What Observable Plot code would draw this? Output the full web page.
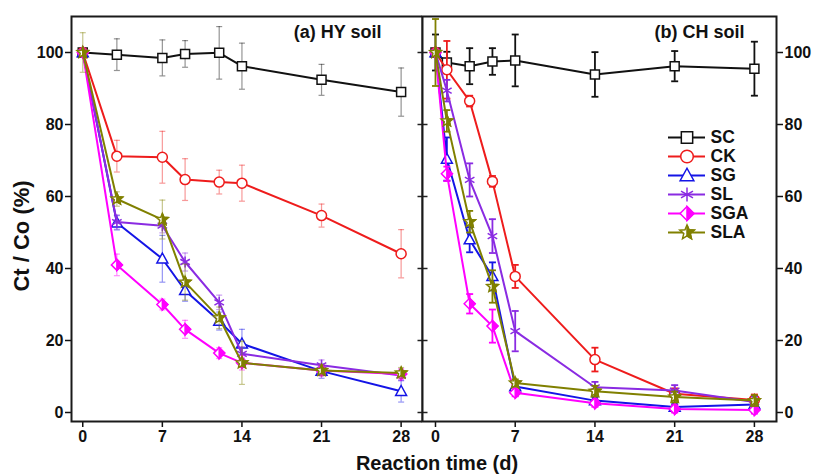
<!DOCTYPE html>
<html><head><meta charset="utf-8">
<script src="https://cdn.jsdelivr.net/npm/d3@7"></script>
<script src="https://cdn.jsdelivr.net/npm/@observablehq/plot@0.6"></script>
<style>
html,body{margin:0;padding:0;background:#fff;}
#chart{position:relative;width:816px;height:474px;overflow:hidden;font-family:Arial,"Liberation Sans",Helvetica,sans-serif;font-weight:bold;color:#111;}
#chart svg{position:absolute;top:0;overflow:visible;}
.lbl{position:absolute;white-space:nowrap;line-height:1;}
</style></head><body><div id="chart"></div>
<script>
// ---- data ----
const seriesNames = ["SC","CK","SG","SL","SGA","SLA"];
const seriesColors = ["#111111","#ee1c1c","#1414e6","#8a2be2","#ff00ff","#808000"];
const xTicks = [0,7,14,21,28];
const yTicks = [0,20,40,60,80,100];
const panelTitles = ["(a) HY soil","(b) CH soil"];

// (a) HY soil
const daysHY = [0,3,7,9,12,14,21,28];
const hySC  = [100,99.4,98.5,99.6,99.9,96.2,92.4,89.0];
const hyCK  = [100,71.2,70.9,64.7,64.0,63.7,54.7,44.1];
const hySG  = [100,52.7,42.7,33.9,25.4,19.1,11.5,5.9];
const hySL  = [100,52.9,51.9,41.8,30.6,16.3,13.1,10.3];
const hySGA = [100,41.0,30.0,23.1,16.5,13.8,11.7,10.7];
const hySLA = [100,59.3,53.6,36.2,26.3,13.8,11.7,11.0];
const hySCerr  = [0,4.4,5.0,3.7,7.3,6.4,4.3,6.7];
const hyCKerr  = [0,4.4,7.2,5.8,3.3,5.0,3.2,6.7];
const hySGerr  = [0,2.0,6.5,3.0,2.5,4.0,2.0,3.0];
const hySLerr  = [0,2.0,2.0,2.5,2.0,2.0,1.5,1.5];
const hySGAerr = [0,3.0,1.5,2.5,1.5,2.0,1.5,1.5];
const hySLAerr = [5.5,2.0,5.4,5.0,3.0,6.0,1.5,1.5];

// (b) CH soil
const daysCH = [0,1,3,5,7,14,21,28];
const chSC  = [100,97.2,96.2,97.5,97.8,93.9,96.2,95.5];
const chCK  = [100,95.2,86.5,64.2,37.8,14.7,5.2,3.5];
const chSG  = [100,70.4,48.0,37.8,7.2,3.3,1.5,2.2];
const chSL  = [100,89.4,64.6,49.0,22.6,7.0,6.1,2.9];
const chSGA = [100,66.3,30.2,24.0,5.5,2.6,1.0,0.7];
const chSLA = [100,81.0,53.0,35.0,8.2,5.9,4.3,3.3];
const chSCerr  = [5.0,3.0,5.0,3.7,7.2,6.2,4.2,7.5];
const chCKerr  = [0,8.0,1.5,1.5,3.2,3.3,1.5,1.5];
const chSGerr  = [0,6.0,3.5,3.9,1.0,1.0,0.8,0.8];
const chSLerr  = [0,3.0,4.6,4.7,5.6,1.5,1.5,1.5];
const chSGAerr = [0,2.0,2.7,4.6,1.0,1.0,1.0,1.0];
const chSLAerr = [9.3,3.0,3.0,4.5,1.0,1.5,1.5,1.5];

const hyValues = [hySC,hyCK,hySG,hySL,hySGA,hySLA];
const hyErrors = [hySCerr,hyCKerr,hySGerr,hySLerr,hySGAerr,hySLAerr];
const chValues = [chSC,chCK,chSG,chSL,chSGA,chSLA];
const chErrors = [chSCerr,chCKerr,chSGerr,chSLerr,chSGAerr,chSLAerr];

// ---- symbols ----
const rad = s => Math.sqrt(s/Math.PI);
const symCap = {draw(c,s){const r=rad(s); c.moveTo(-r,0); c.lineTo(r,0);}};
const symSquare = {draw(c,s){const r=rad(s)*0.9; c.rect(-r,-r,2*r,2*r);}};
const symCircle = {draw(c,s){const r=rad(s); c.moveTo(r,0); c.arc(0,0,r,0,2*Math.PI);}};
const symTriangle = {draw(c,s){const r=rad(s)*1.15; c.moveTo(0,-r); c.lineTo(r*0.95,r*0.72); c.lineTo(-r*0.95,r*0.72); c.closePath();}};
const symAsterisk = {draw(c,s){const r=rad(s)*1.1; const a=r*Math.cos(Math.PI/6), b=r*Math.sin(Math.PI/6);
  c.moveTo(0,-r); c.lineTo(0,r); c.moveTo(-a,-b); c.lineTo(a,b); c.moveTo(-a,b); c.lineTo(a,-b);}};
const symDiamond = {draw(c,s){const r=rad(s)*1.1; c.moveTo(0,-r); c.lineTo(r,0); c.lineTo(0,r); c.lineTo(-r,0); c.closePath();}};
const symDiamondR = {draw(c,s){const r=rad(s)*1.1; c.moveTo(0,-r); c.lineTo(r,0); c.lineTo(0,r); c.closePath();}};
function starPts(R, n){const pts=[]; for(let k=0;k<n;k++){const a=(-90+36*k)*Math.PI/180, rr=k%2?R*0.45:R; pts.push([rr*Math.cos(a), rr*Math.sin(a)]);} return pts;}
const symStar = {draw(c,s){const p=starPts(rad(s)*1.2,10); c.moveTo(...p[0]); p.slice(1).forEach(q=>c.lineTo(...q)); c.closePath();}};
const symStarR = {draw(c,s){const p=starPts(rad(s)*1.2,6); c.moveTo(...p[0]); p.slice(1).forEach(q=>c.lineTo(...q)); c.closePath();}};

const markerStyle = {
  SC:  [{symbol:symSquare, fill:"white"}],
  CK:  [{symbol:symCircle, fill:"white"}],
  SG:  [{symbol:symTriangle, fill:"white"}],
  SL:  [{symbol:symAsterisk, fill:"none"}],
  SGA: [{symbol:symDiamond, fill:"white"},{symbol:symDiamondR, fill:"color"}],
  SLA: [{symbol:symStar, fill:"white"},{symbol:symStarR, fill:"color"}]
};

function markerMarks(data, name, color, r, xf, yf){
  return markerStyle[name].map(m => Plot.dot(data, {x:xf, y:yf, symbol:m.symbol, r,
    fill: m.fill==="color"?color:m.fill, stroke:color, strokeWidth:1.5}));
}

function buildRows(days, vals, errs){
  const rows=[];
  seriesNames.forEach((name,si)=>vals[si].forEach((v,i)=>rows.push({name, day:days[i], v, e:errs[si][i]})));
  return rows;
}

const fontFamily = 'Arial, "Liberation Sans", Helvetica, sans-serif';
const baseStyle = {fontFamily, fontSize:"16px", fontWeight:"bold", color:"#111", background:"white", overflow:"visible"};

function panel(cfg){
  const rows = buildRows(cfg.days, cfg.vals, cfg.errs);
  const marks = [];
  seriesNames.forEach((name,si)=>{
    const color = seriesColors[si];
    const rs = rows.filter(d=>d.name===name);
    const eb = rs.filter(d=>d.e>0);
    const sw = cfg.light?1.2:1.8, op = cfg.light?0.45:1, cr = cfg.light?3:3.5;
    marks.push(
      Plot.ruleX(eb, {x:"day", y1:d=>d.v-d.e, y2:d=>d.v+d.e, stroke:color, strokeWidth:sw, strokeOpacity:op}),
      Plot.dot(eb, {x:"day", y:d=>d.v+d.e, symbol:symCap, r:cr, stroke:color, fill:"none", strokeWidth:sw, strokeOpacity:op}),
      Plot.dot(eb, {x:"day", y:d=>d.v-d.e, symbol:symCap, r:cr, stroke:color, fill:"none", strokeWidth:sw, strokeOpacity:op}),
      Plot.line(rs, {x:"day", y:"v", stroke:color, strokeWidth:2}),
      ...markerMarks(rs, name, color, 5, "day", "v")
    );
  });
  const axes = [
    Plot.axisX({ticks:xTicks, tickSize:6, tickPadding:3, label:null, strokeWidth:1.5, fontSize:16}),
    Plot.axisY({ticks:yTicks, anchor:cfg.side, tickSize:6, tickPadding:2, label:null, strokeWidth:1.5, fontSize:16})
  ];
  if (cfg.divider) axes.push(Plot.dot(yTicks, {y:d=>d, frameAnchor:"left", symbol:symCap, r:5, stroke:"#222", strokeWidth:1.5}));
  return Plot.plot({
    width: cfg.width, height: 474,
    marginLeft: cfg.marginLeft, marginRight: cfg.marginRight, marginTop: 16, marginBottom: 53,
    x: {domain: cfg.xDomain},
    y: {domain: [-2.5, 110]},
    style: baseStyle,
    marks: [
      ...marks,
      ...axes,
      Plot.frame({stroke:"#1a1a1a", strokeWidth:2}),
      Plot.text([cfg.title], {text:d=>d, frameAnchor:"top-right", dx:cfg.titleDx, dy:16, lineAnchor:"middle", textAnchor:"end", fontSize:18, fontWeight:"bold", fill:"#111"})
    ]
  });
}

const chart = document.getElementById("chart");
const left = panel({days:daysHY, vals:hyValues, errs:hyErrors, width:422, marginLeft:71, marginRight:0,
  xDomain:[-0.99,29.88], side:"left", title:panelTitles[0], titleDx:-41, light:true});
left.style.left = "0px";
chart.appendChild(left);
const right = panel({days:daysCH, vals:chValues, errs:chErrors, width:394, marginLeft:0, marginRight:40,
  xDomain:[-1.14,29.94], side:"right", title:panelTitles[1], titleDx:-32, light:false, divider:true});
right.style.left = "422px";
chart.appendChild(right);

// legend
const legendMarks = [];
seriesNames.forEach((name,si)=>{
  const color = seriesColors[si];
  legendMarks.push(
    Plot.ruleY([name], {y:d=>d, x1:d=>0, x2:d=>1, stroke:color, strokeWidth:2}),
    ...markerMarks([name], name, color, 6.3, d=>0.5, d=>d)
  );
});
legendMarks.push(Plot.text(seriesNames, {x:d=>1, y:d=>d, text:d=>d, dx:5, textAnchor:"start", fontSize:17.5, fontWeight:"bold", fill:"#111"}));
const legend = Plot.plot({
  width:130, height:150, margin:0,
  x:{domain:[0,1], range:[8,45], axis:null},
  y:{type:"point", domain:seriesNames, range:[15,129], axis:null},
  style:{...baseStyle, background:"transparent"},
  marks: legendMarks
});
legend.style.left = "660px"; legend.style.top = "112px";
chart.appendChild(legend);

// axis titles
const xl = document.createElement("div");
xl.className = "lbl"; xl.textContent = "Reaction time (d)";
Object.assign(xl.style, {left:"437px", top:"463px", fontSize:"20px", transform:"translate(-50%,-50%)"});
chart.appendChild(xl);
const yl = document.createElement("div");
yl.className = "lbl"; yl.textContent = "Ct / Co (%)";
Object.assign(yl.style, {left:"22px", top:"236px", fontSize:"22px", transform:"translate(-50%,-50%) rotate(-90deg)"});
chart.appendChild(yl);
</script></body></html>
